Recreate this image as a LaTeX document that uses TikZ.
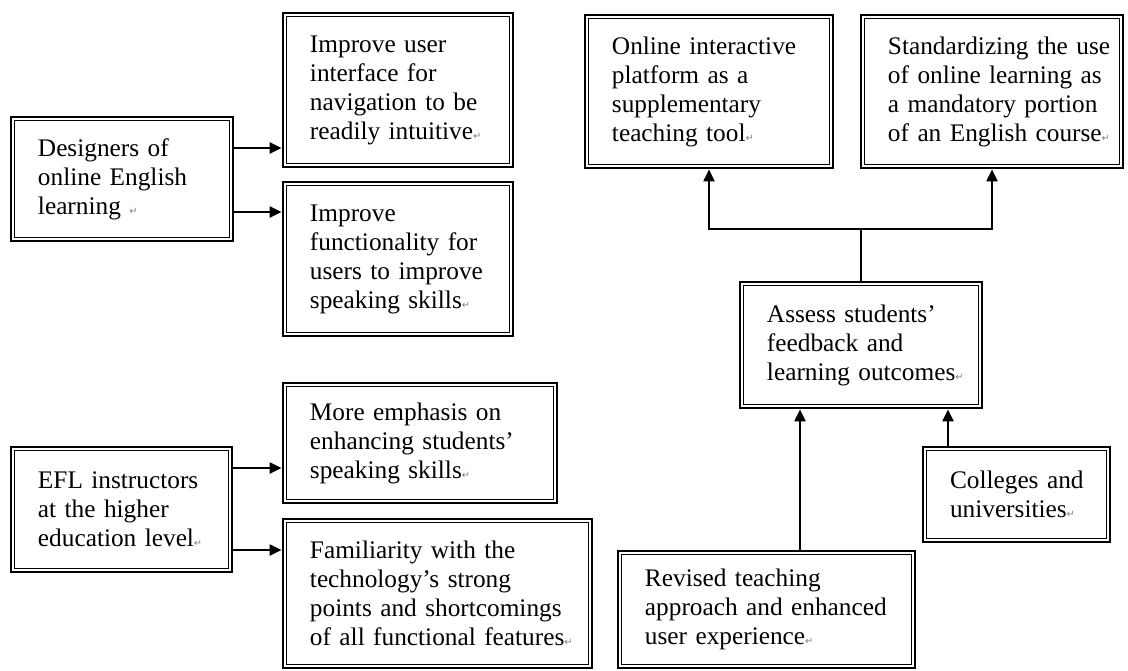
\documentclass[tikz,border=0pt]{standalone}
\usepackage{fontspec}
\setmainfont{Liberation Serif}
\newfontfamily\marksfont{DejaVu Sans}
\usetikzlibrary{arrows.meta}
\newcommand{\pmark}{{\marksfont\fontsize{7}{7}\selectfont\color{gray}↵}}
\tikzset{
  box/.style={draw, line width=2pt, inner sep=0pt, align=left,
    font=\fontsize{18}{20.6}\selectfont},
  arr/.style={-{Triangle[length=3mm,width=2.8mm]}, line width=1.2pt},
  link/.style={line width=1.2pt}
}

\begin{document}
\begin{tikzpicture}[x=0.025cm, y=-0.025cm]
  \useasboundingbox (0,0) rectangle (1128,670);
  % left: designers and instructors
  \node[box, minimum width=5.55cm, minimum height=3.1cm, text width=4.2cm] (des) at (122,179) {Designers of\\online English\\learning \pmark};
  \node[box, minimum width=5.75cm, minimum height=3.85cm, text width=4.4cm] (ui) at (398,90) {Improve user\\interface for\\navigation to be\\readily intuitive\pmark};
  \node[box, minimum width=5.75cm, minimum height=3.85cm, text width=4.4cm] (func) at (398,259) {Improve\\functionality for\\users to improve\\speaking skills\pmark};
  \node[box, minimum width=5.525cm, minimum height=3.125cm, text width=4.175cm] (efl) at (121.5,509.5) {EFL instructors\\at the higher\\education level\pmark};
  \node[box, minimum width=6.85cm, minimum height=3cm, text width=5.5cm] (more) at (420,443) {More emphasis on\\enhancing students’\\speaking skills\pmark};
  \node[box, minimum width=7.725cm, minimum height=3.725cm, text width=6.375cm] (fam) at (437.5,593.5) {Familiarity with the\\technology’s strong\\points and shortcomings\\\mbox{of all functional features\pmark}};
  % right: institutions
  \node[box, minimum width=6.2cm, minimum height=3.825cm, text width=4.85cm] (online) at (709,91.5) {Online interactive\\platform as a\\supplementary\\teaching tool\pmark};
  \node[box, minimum width=6.55cm, minimum height=3.825cm, text width=5.2cm] (std) at (992,91.5) {\mbox{Standardizing the use}\\\mbox{of online learning as}\\\mbox{a mandatory portion}\\\mbox{of an English course\pmark}};
  \node[box, minimum width=6.05cm, minimum height=3.15cm, text width=4.7cm] (assess) at (861,345) {Assess students’\\feedback and\\\mbox{learning outcomes\pmark}};
  \node[box, minimum width=4.675cm, minimum height=2.375cm, text width=3.325cm] (colleges) at (1016.5,494.5) {\mbox{Colleges and}\\universities\pmark};
  \node[box, minimum width=7.425cm, minimum height=2.925cm, text width=6.075cm] (revised) at (766.5,609.5) {Revised teaching\\\mbox{approach and enhanced}\\user experience\pmark};
  % inner line of the double frames
  \foreach \b in {des,ui,func,efl,more,fam,online,std,assess,colleges,revised}
    \draw[line width=0.8pt] ([shift={(5,5)}]\b.north west) rectangle ([shift={(-5,-5)}]\b.south east);
  % arrows
  \coordinate (d1) at (233,148);
  \coordinate (d2) at (233,212);
  \coordinate (e1) at (232,468);
  \coordinate (e2) at (232,550);
  \draw[arr] (d1) -- (d1 -| ui.west);
  \draw[arr] (d2) -- (d2 -| func.west);
  \draw[arr] (e1) -- (e1 -| more.west);
  \draw[arr] (e2) -- (e2 -| fam.west);
  \coordinate (j) at (861,229);
  \draw[link] (assess.north) -- (j);
  \draw[arr] (j) -| (online.south);
  \draw[arr] (j) -| (std.south);
  \coordinate (r1) at (800,551);
  \coordinate (c1) at (948,447);
  \draw[arr] (r1) -- (r1 |- assess.south);
  \draw[arr] (c1) -- (c1 |- assess.south);
\end{tikzpicture}
\end{document}
